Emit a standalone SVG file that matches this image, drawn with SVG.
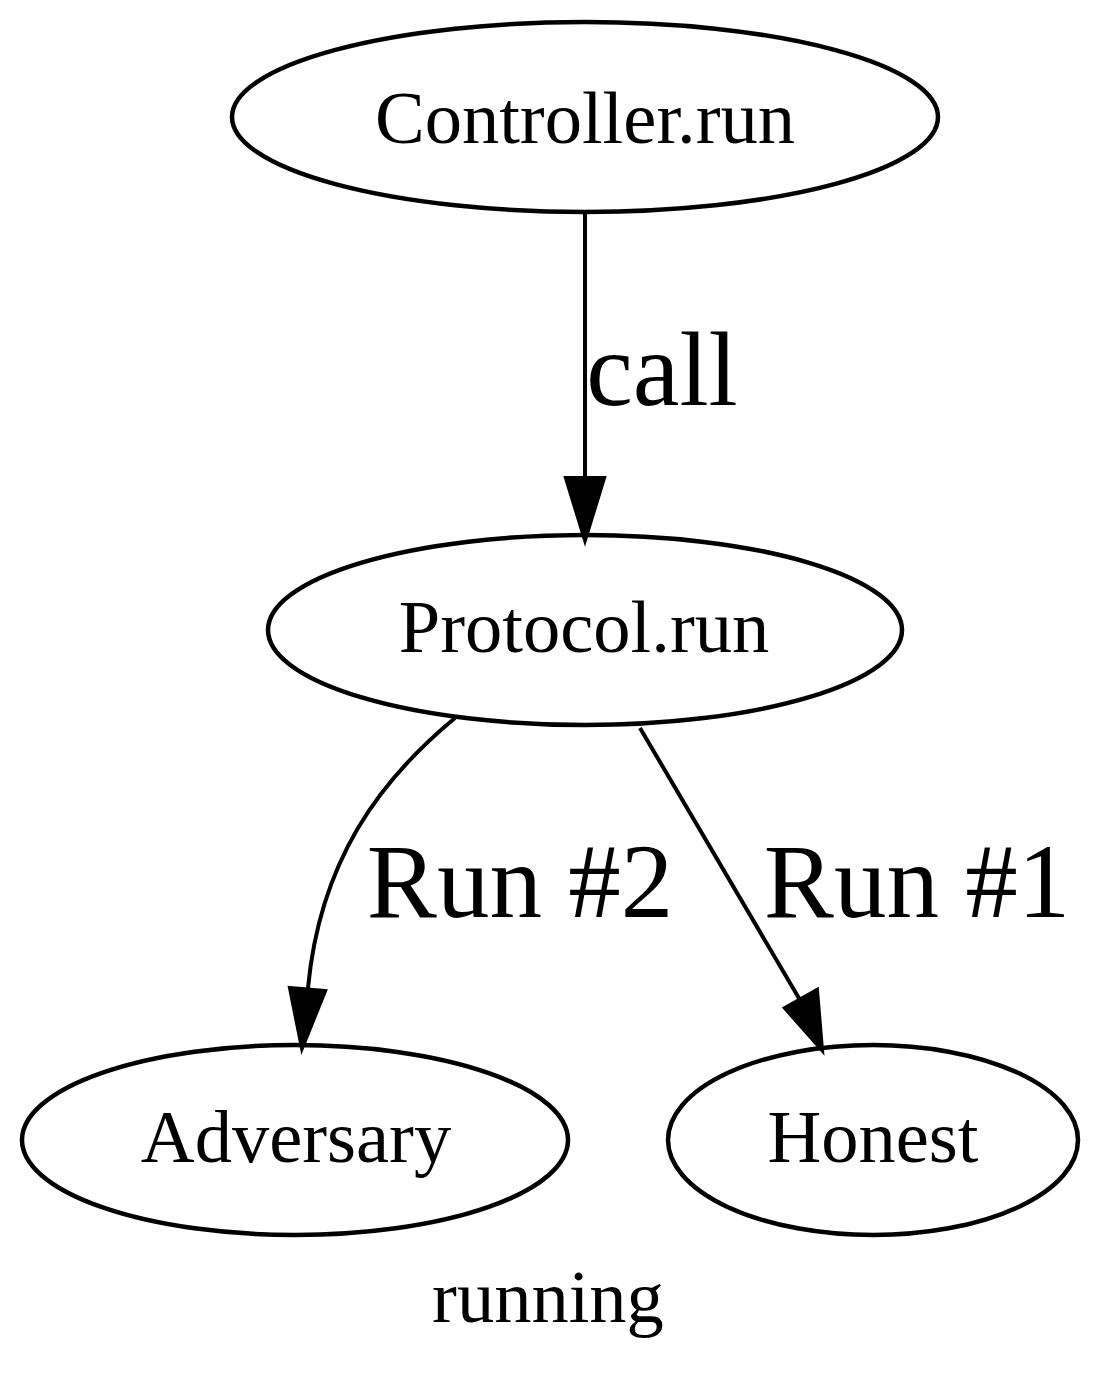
<svg xmlns="http://www.w3.org/2000/svg" width="1100" height="1392" viewBox="0 0 1100 1392">
<style>
.node ellipse{fill:none;stroke:#000;stroke-width:4.5}
.node text,.label{font-family:"Liberation Serif","Times New Roman",serif;fill:#000;text-anchor:middle}
.node text{font-size:74.5px}
.elabel{font-family:"Liberation Serif","Times New Roman",serif;font-size:105px;fill:#000;text-anchor:middle}
.edge path{fill:none;stroke:#000;stroke-width:4}
.edge polygon{fill:#000;stroke:#000;stroke-width:4}
</style>
<rect width="1100" height="1392" fill="#fff"/>
<g id="edges">
<g class="edge" id="e_controller_protocol">
<path d="M585,212 L585,478"/>
<polygon points="566,478 604,478 585,540"/>
<text class="elabel" x="662" y="405">call</text>
</g>
<g class="edge" id="e_protocol_adversary">
<path d="M455,718 C380,780 320,860 308,988"/>
<polygon points="290,988 325,991 302,1048"/>
<text class="elabel" x="520" y="917">Run #2</text>
</g>
<g class="edge" id="e_protocol_honest">
<path d="M640,728 L800,1000"/>
<polygon points="785,1008 817,990 822,1050"/>
<text class="elabel" x="917" y="917">Run #1</text>
</g>
</g>
<g class="node" id="controller">
<ellipse cx="585" cy="117" rx="353" ry="95"/>
<text x="585" y="143">Controller.run</text>
</g>
<g class="node" id="protocol">
<ellipse cx="585" cy="630" rx="317" ry="95"/>
<text x="584" y="652">Protocol.run</text>
</g>
<g class="node" id="adversary">
<ellipse cx="295" cy="1140" rx="273" ry="95"/>
<text x="296" y="1162">Adversary</text>
</g>
<g class="node" id="honest">
<ellipse cx="873" cy="1140" rx="205" ry="95"/>
<text x="873" y="1162">Honest</text>
</g>
<text class="label" x="548" y="1322" font-size="74.5">running</text>
</svg>
